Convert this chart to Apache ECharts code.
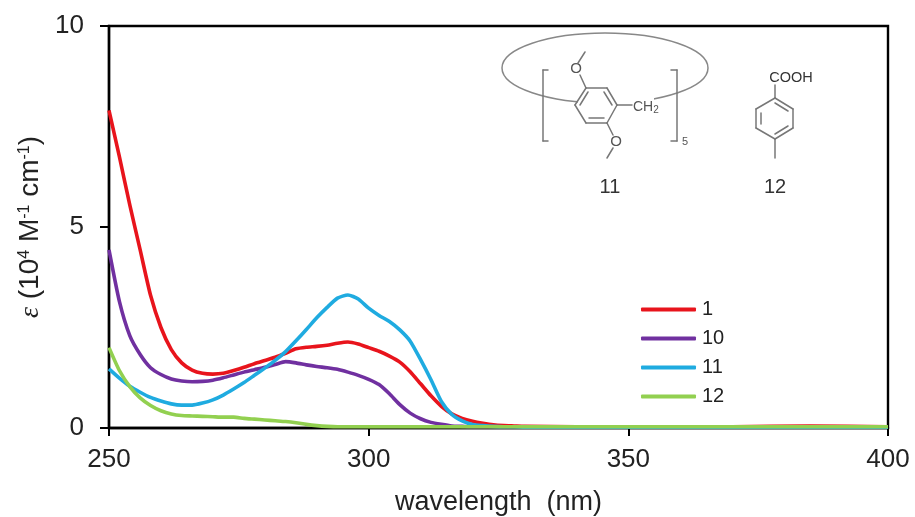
<!DOCTYPE html>
<html><head><meta charset="utf-8">
<style>html,body{margin:0;padding:0;background:#fff}#c{width:915px;height:517px}</style>
<script src="https://cdn.jsdelivr.net/npm/echarts@6/dist/echarts.min.js"></script>
</head><body><div id="c"></div>
<script>
const wavelengths = [250,252,254,256,258,260,262,264,266,268,270,272,274,276,278,280,282,284,286,288,290,292,294,296,298,300,302,304,306,308,310,312,314,316,318,320,322,324,326,328,330,340,350,370,385,400];
const y1  = [7.9,6.75,5.55,4.43,3.3,2.5,1.95,1.62,1.44,1.36,1.34,1.36,1.43,1.51,1.6,1.68,1.76,1.86,1.97,2.01,2.03,2.06,2.11,2.14,2.09,2.0,1.91,1.79,1.64,1.4,1.1,0.8,0.54,0.35,0.24,0.17,0.12,0.08,0.06,0.05,0.04,0.03,0.03,0.03,0.05,0.03];
const y10 = [4.43,3.15,2.3,1.83,1.5,1.33,1.22,1.17,1.15,1.16,1.19,1.25,1.32,1.39,1.45,1.51,1.58,1.65,1.62,1.57,1.53,1.5,1.46,1.39,1.31,1.21,1.08,0.85,0.58,0.37,0.23,0.14,0.09,0.05,0.04,0.03,0.03,0.03,0.03,0.03,0.03,0.03,0.03,0.03,0.03,0.03];
const y11 = [1.47,1.24,1.04,0.89,0.76,0.67,0.6,0.57,0.57,0.62,0.7,0.82,0.97,1.13,1.31,1.49,1.68,1.9,2.17,2.45,2.74,3.0,3.23,3.31,3.21,2.98,2.8,2.65,2.44,2.16,1.7,1.2,0.66,0.34,0.18,0.09,0.06,0.04,0.03,0.03,0.02,0.02,0.02,0.02,0.02,0.02];
const y12 = [2.0,1.43,1.03,0.75,0.56,0.43,0.35,0.31,0.3,0.29,0.28,0.27,0.27,0.24,0.22,0.2,0.18,0.16,0.13,0.09,0.06,0.04,0.03,0.03,0.03,0.03,0.03,0.03,0.03,0.03,0.03,0.03,0.03,0.03,0.03,0.03,0.03,0.03,0.03,0.03,0.03,0.03,0.03,0.03,0.03,0.03];
const seriesNames = ['1','10','11','12'];
const seriesColors = ['#e8141c','#7030a0','#1fabe0','#92d050'];
const seriesY = [y1,y10,y11,y12];
const FONT = '"Liberation Sans", Arial, sans-serif';
const chart = echarts.init(document.getElementById('c'), null, {renderer:'canvas'});
const gray = '#777';
function ln(x1,y1,x2,y2,w){return {type:'line',shape:{x1,y1,x2,y2},style:{stroke:gray,lineWidth:w||1.5,lineCap:'round'},z:5};}
function tx(x,y,text,size,color){return {type:'text',x,y,style:{text,font:size+'px '+FONT,fill:color||'#555',textAlign:'center',textVerticalAlign:'middle'},z:5};}
const graphics = [
 {type:'ellipse',shape:{cx:605,cy:68,rx:103,ry:35},style:{fill:null,stroke:'#888',lineWidth:1.5},z:4},
 {type:'rect',shape:{x:578,y:88,width:76,height:20},style:{fill:'#fff'},z:4,z2:2,silent:true},
 ln(548,70,543,70),ln(543,70,543,141),ln(543,141,548,141),
 ln(671,70,677,70),ln(677,70,677,141),ln(677,141,671,141),
 ln(586,88,607,88),ln(607,88,617,105),ln(617,105,607,123),ln(607,123,586,123),ln(586,123,575,105),ln(575,105,586,88),
 ln(580,105,588,92),ln(604,92,612,105),ln(589,118,604,118),
 ln(617,105,632,105),ln(586,88,580,75),ln(578,63,585,52),
 ln(607,123,613,135),ln(613,148,607,158),
 tx(576,69,'O',15),tx(616,142,'O',15),
 {type:'text',x:633,y:107,style:{text:'CH{s|2}',rich:{s:{fontSize:10,padding:[7,0,0,0],fill:'#555'}},font:'14px '+FONT,fill:'#555',textVerticalAlign:'middle'},z:6},
 tx(685,142,'5',11),
 ln(775,98,793,109),ln(793,109,793,128),ln(793,128,775,139),ln(775,139,756,128),ln(756,128,756,109),ln(756,109,775,98),
 ln(775,98,775,85),ln(775,139,775,158),ln(775,103,788,111),ln(788,126,775,134),ln(761,113,761,124),
 tx(791,78,'COOH',14.5,'#333'),
 tx(610,187,'11',20,'#333'),tx(775,187,'12',20,'#333')
];
chart.setOption({
 animation:false,
 backgroundColor:'#fff',
 textStyle:{fontFamily:FONT},
 grid:{left:109,right:27,top:26,bottom:89,outerBoundsMode:'none',show:true,borderColor:'#000',borderWidth:2.4,backgroundColor:'transparent'},
 legend:{
  show:true,orient:'vertical',left:636,top:293,itemWidth:55,itemHeight:4,itemGap:6,
  icon:'roundRect',
  data:seriesNames,
  textStyle:{fontSize:20,lineHeight:23,color:'#222',padding:[0,0,0,1],fontFamily:FONT}
 },
 xAxis:{type:'value',min:250,max:400,interval:50,
  name:'wavelength  (nm)',nameLocation:'middle',nameGap:61,
  nameTextStyle:{fontSize:27,color:'#222'},
  axisLine:{onZero:false,lineStyle:{color:'#000',width:2.4}},
  axisTick:{show:true,inside:false,length:8,lineStyle:{color:'#000',width:2}},
  axisLabel:{fontSize:26,color:'#222',margin:19,showMaxLabel:true,showMinLabel:true},
  splitLine:{show:false}},
 yAxis:{type:'value',min:0,max:10,interval:5,
  name:'{i|ε} (10{s|4} M{s|-1} cm{s|-1})',nameLocation:'middle',nameGap:63,nameRotate:90,
  nameTextStyle:{fontSize:28,color:'#222',rich:{i:{fontSize:28,fontStyle:'italic',fontFamily:'"Liberation Serif",serif',color:'#222'},s:{fontSize:16,verticalAlign:'top',padding:[0,0,11,0],color:'#222'}}},
  axisLine:{onZero:false,lineStyle:{color:'#000',width:2.4}},
  axisTick:{show:true,inside:false,length:9,lineStyle:{color:'#000',width:2}},
  axisLabel:{fontSize:26,color:'#222',margin:25},
  splitLine:{show:false}},
 series:seriesNames.map((n,i)=>({
  name:n,type:'line',
  data:wavelengths.map((w,j)=>[w,seriesY[i][j]]),
  smooth:0.2,showSymbol:false,symbol:'none',clip:false,
  lineStyle:{color:seriesColors[i],width:3.6,join:'round'},itemStyle:{color:seriesColors[i]},z:3
 })),
 graphic:graphics
});
</script></body></html>
